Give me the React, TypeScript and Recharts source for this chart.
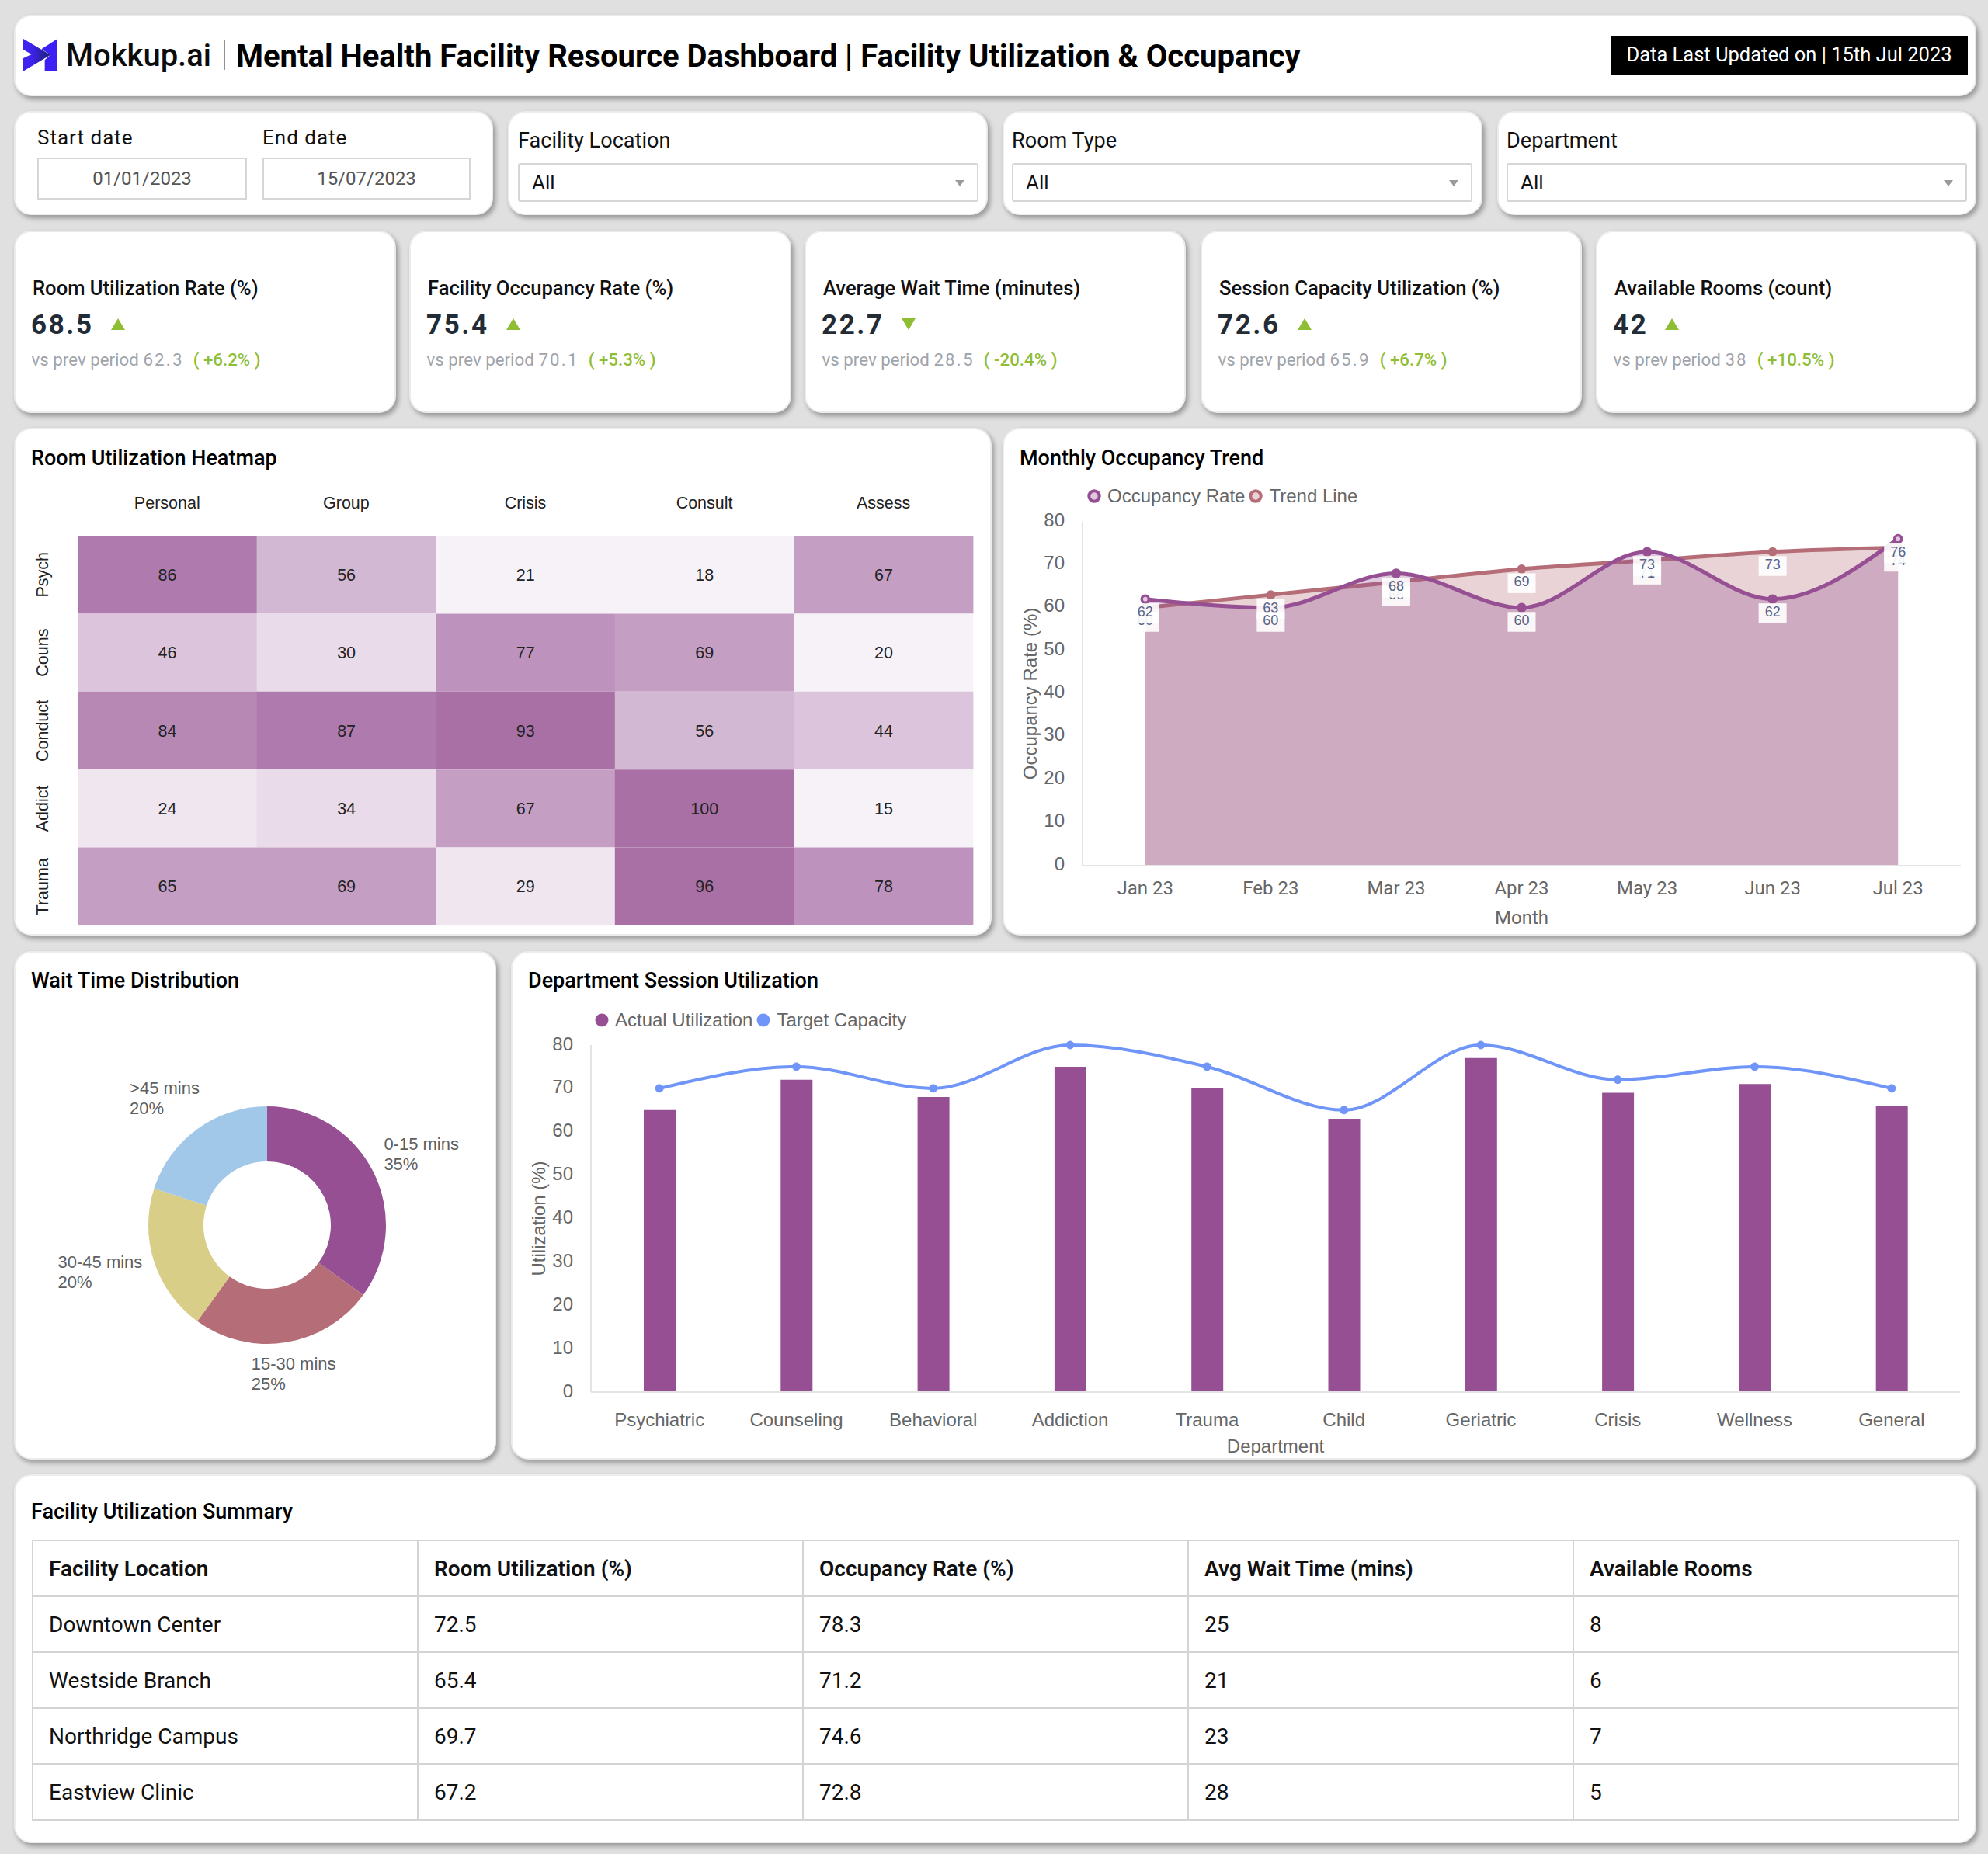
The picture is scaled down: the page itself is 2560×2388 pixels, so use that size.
import {
  Area,
  Bar,
  BarChart,
  Cell,
  ComposedChart,
  LabelList,
  Legend,
  Line,
  Pie,
  PieChart,
  XAxis,
  YAxis,
} from "recharts";

const months = ["Jan 23", "Feb 23", "Mar 23", "Apr 23", "May 23", "Jun 23", "Jul 23"];
const occupancy = [62, 60, 68, 60, 73, 62, 76];
const trend = [60, 63, 66, 69, 71, 73, 74];

const departments = ["Psychiatric", "Counseling", "Behavioral", "Addiction", "Trauma", "Child", "Geriatric", "Crisis", "Wellness", "General"];
const actualUtil = [65, 72, 68, 75, 70, 63, 77, 69, 71, 66];
const targetCap = [70, 75, 70, 80, 75, 65, 80, 72, 75, 70];

const waitLabels = ["0-15 mins", "15-30 mins", "30-45 mins", ">45 mins"];
const waitValues = [35, 25, 20, 20];
const waitColors = ["#954F92", "#B56D78", "#D9CE88", "#A1C8E9"];

const heatCols = ["Personal", "Group", "Crisis", "Consult", "Assess"];
const heatRows = ["Psych", "Couns", "Conduct", "Addict", "Trauma"];
const psychRow = [86, 56, 21, 18, 67];
const counsRow = [46, 30, 77, 69, 20];
const conductRow = [84, 87, 93, 56, 44];
const addictRow = [24, 34, 67, 100, 15];
const traumaRow = [65, 69, 29, 96, 78];
const heatValues = [psychRow, counsRow, conductRow, addictRow, traumaRow];
const heatSteps = [21, 29, 34, 46, 56, 69, 78, 84, 87, 100];
const heatShades = ["#F6F2F7", "#F0E6F0", "#E9DBE9", "#DCC4DC", "#D2B8D3", "#C49EC3", "#BD93BD", "#B888B5", "#AF7BAE", "#A970A5"];

const kpiTitles = ["Room Utilization Rate (%)", "Facility Occupancy Rate (%)", "Average Wait Time (minutes)", "Session Capacity Utilization (%)", "Available Rooms (count)"];
const kpiValues = ["68.5", "75.4", "22.7", "72.6", "42"];
const kpiPrev = ["62.3", "70.1", "28.5", "65.9", "38"];
const kpiDelta = ["+6.2%", "+5.3%", "-20.4%", "+6.7%", "+10.5%"];

const tableHead = ["Facility Location", "Room Utilization (%)", "Occupancy Rate (%)", "Avg Wait Time (mins)", "Available Rooms"];
const tableRows = [
  ["Downtown Center", "72.5", "78.3", "25", "8"],
  ["Westside Branch", "65.4", "71.2", "21", "6"],
  ["Northridge Campus", "69.7", "74.6", "23", "7"],
  ["Eastview Clinic", "67.2", "72.8", "28", "5"],
];

const monthData = months.map((month, i) => ({ month, occupancy: occupancy[i], trend: trend[i] }));
const deptData = departments.map((name, i) => ({ name, actual: actualUtil[i], target: targetCap[i] }));
const waitData = waitLabels.map((name, i) => ({ name, value: waitValues[i] }));
const heatData = heatCols.map((col, c) => {
  const row: any = { col };
  heatRows.forEach((r, i) => {
    row[r] = 1;
    row[r + "_v"] = heatValues[i][c];
  });
  return row;
});

const ROBOTO = "Roboto, sans-serif";
const LIB = "'Liberation Sans', Arial, sans-serif";
const GREEN = "#8FBE35";
const GREY = "#666666";

const heatColor = (v: number) => heatShades[heatSteps.findIndex((s) => v <= s)];

function Card({ x, y, w, h }: { x: number; y: number; w: number; h: number }) {
  return (
    <div
      style={{
        position: "absolute",
        left: x - 1,
        top: y,
        width: w + 1,
        height: h,
        boxSizing: "border-box",
        background: "#fff",
        borderRadius: 22,
        border: "2px solid #ececec",
        boxShadow: "3px 4px 6px rgba(0,0,0,0.33)",
      }}
    />
  );
}

function T({ x, cy, size, weight = 400, color = "#000", ls = 0, children }: any) {
  return (
    <div
      style={{
        position: "absolute",
        left: x,
        top: cy,
        transform: "translateY(-50%)",
        fontFamily: ROBOTO,
        fontSize: size,
        fontWeight: weight,
        color,
        letterSpacing: ls,
        whiteSpace: "nowrap",
        lineHeight: 1.2,
      }}
    >
      {children}
    </div>
  );
}

function Dropdown({ x, label }: { x: number; label: string }) {
  return (
    <>
      <T x={x} cy={181} size={27.1} color="#111">
        {label}
      </T>
      <div
        style={{
          position: "absolute",
          left: x,
          top: 210,
          width: 593,
          height: 50,
          boxSizing: "border-box",
          border: "2px solid #d6d6d6",
          borderRadius: 3,
        }}
      />
      <T x={x + 18} cy={236} size={26} color="#111">
        All
      </T>
      <div
        style={{
          position: "absolute",
          left: x + 563,
          top: 232,
          width: 0,
          height: 0,
          borderLeft: "6px solid transparent",
          borderRight: "6px solid transparent",
          borderTop: "8px solid #9a9a9a",
        }}
      />
    </>
  );
}

function DateBox({ x, w, label, value }: { x: number; w: number; label: string; value: string }) {
  return (
    <>
      <T x={x} cy={178} size={26} color="#111" ls={1}>
        {label}
      </T>
      <div
        style={{
          position: "absolute",
          left: x,
          top: 203,
          width: w,
          height: 54,
          boxSizing: "border-box",
          border: "2px solid #d6d6d6",
          display: "flex",
          alignItems: "center",
          justifyContent: "center",
          fontFamily: ROBOTO,
          fontSize: 24,
          color: "#555",
        }}
      >
        {value}
      </div>
    </>
  );
}

function Kpi({ x, i }: { x: number; i: number }) {
  const down = kpiDelta[i].startsWith("-");
  const width = kpiValues[i].length > 2 ? 102 : 66;
  return (
    <>
      <T x={x + 23} cy={371} size={25.6} weight={500} color="#111">
        {kpiTitles[i]}
      </T>
      <T x={x + 21} cy={419} size={35} weight={700} color="#222B36" ls={2.6}>
        {kpiValues[i]}
      </T>
      <div
        style={{
          position: "absolute",
          left: x + 22 + width,
          top: 410,
          width: 0,
          height: 0,
          borderLeft: "9px solid transparent",
          borderRight: "9px solid transparent",
          ...(down ? { borderTop: `15px solid ${GREEN}` } : { borderBottom: `15px solid ${GREEN}` }),
        }}
      />
      <T x={x + 21.5} cy={462.5} size={22.3} color="#A0A4AB">
        vs prev period <span style={{ letterSpacing: 2.2 }}>{kpiPrev[i]}</span>
        <span style={{ color: GREEN, marginLeft: 12, fontWeight: 500 }}>( {kpiDelta[i]} )</span>
      </T>
    </>
  );
}

function OccLabel(props: any) {
  const vb = props.viewBox || props;
  return (
    <g>
      <rect x={vb.x - 18} y={vb.y + 5.5} width={36} height={25.5} fill="#fff" fillOpacity={0.9} />
      <text x={vb.x} y={vb.y + 16.5} textAnchor="middle" dominantBaseline="central" fontSize={18} fontFamily={LIB} fill="#566488">
        {props.value}
      </text>
    </g>
  );
}

function OccDot(props: any) {
  const { cx, cy, index } = props;
  const ends = index === 0 || index === months.length - 1;
  return <circle key={index} cx={cx} cy={cy} r={4.6} fill={ends ? "#E0C8DE" : "#954F92"} stroke="#954F92" strokeWidth={3.4} />;
}

function makeLegend(items: { color: string; label: string; hollow?: boolean; pale?: string }[]) {
  return () => (
    <div style={{ display: "flex", alignItems: "center", fontFamily: LIB, fontSize: 24, color: GREY, whiteSpace: "nowrap" }}>
      {items.map((it) => (
        <span key={it.label} style={{ display: "inline-flex", alignItems: "center", marginRight: 5 }}>
          <svg width={18} height={18} style={{ marginRight: 8 }}>
            <circle cx={9} cy={9} r={it.hollow ? 6.7 : 8.5} fill={it.hollow ? it.pale : it.color} stroke={it.hollow ? it.color : "none"} strokeWidth={it.hollow ? 4 : 0} />
          </svg>
          {it.label}
        </span>
      ))}
    </div>
  );
}

const occupancyLegend = makeLegend([
  { color: "#954F92", label: "Occupancy Rate", hollow: true, pale: "#E0C8DE" },
  { color: "#B56D78", label: "Trend Line", hollow: true, pale: "#EAD3D7" },
]);
const deptLegend = makeLegend([
  { color: "#954F92", label: "Actual Utilization" },
  { color: "#6F95F8", label: "Target Capacity" },
]);

function OccupancyChart() {
  return (
    <div style={{ position: "absolute", left: 1292, top: 552 }}>
      <ComposedChart width={1253} height={650} data={monthData} margin={{ top: 120, right: 20, bottom: 17, left: 22 }}>
        <XAxis
          dataKey="month"
          scale="band"
          height={70}
          tickLine={false}
          tickMargin={14}
          axisLine={{ stroke: "#E3E3E3", strokeWidth: 2 }}
          tick={{ fill: GREY, fontSize: 24, fontFamily: ROBOTO }}
          label={{ value: "Month", position: "insideBottom", offset: -5, fill: GREY, fontSize: 24, fontFamily: ROBOTO }}
        />
        <YAxis
          width={80}
          domain={[0, 80]}
          ticks={[0, 10, 20, 30, 40, 50, 60, 70, 80]}
          tickLine={false}
          tickMargin={17}
          axisLine={{ stroke: "#E3E3E3", strokeWidth: 2 }}
          tick={{ fill: GREY, fontSize: 24, fontFamily: LIB, dy: -3 }}
          label={{ value: "Occupancy Rate (%)", angle: -90, position: "insideLeft", offset: 12, fill: GREY, fontSize: 24, fontFamily: LIB, style: { textAnchor: "middle" } }}
        />
        <Legend verticalAlign="middle" align="center" content={occupancyLegend} wrapperStyle={{ left: 108, top: 72.5, width: 500 }} />
        <Area
          type="monotone"
          dataKey="trend"
          name="Trend Line"
          stroke="#B56D78"
          strokeWidth={5}
          fill="#B56D78"
          fillOpacity={0.3}
          dot={{ r: 4.5, fill: "#B56D78", stroke: "#B56D78", strokeWidth: 3, fillOpacity: 1 }}
          isAnimationActive={false}
        />
        <Area
          type="monotone"
          dataKey="occupancy"
          name="Occupancy Rate"
          stroke="#954F92"
          strokeWidth={5}
          fill="#954F92"
          fillOpacity={0.3}
          dot={OccDot}
          isAnimationActive={false}
        />
        <Line dataKey="trend" stroke="none" dot={false} legendType="none" isAnimationActive={false}>
          <LabelList dataKey="trend" content={OccLabel} />
        </Line>
        <Line dataKey="occupancy" stroke="none" dot={false} legendType="none" isAnimationActive={false}>
          <LabelList dataKey="occupancy" content={OccLabel} />
        </Line>
      </ComposedChart>
    </div>
  );
}

function DepartmentChart() {
  return (
    <div style={{ position: "absolute", left: 660, top: 1225 }}>
      <ComposedChart width={1885} height={654} data={deptData} margin={{ top: 121, right: 21, bottom: 16, left: 21 }}>
        <XAxis
          dataKey="name"
          height={70}
          interval={0}
          tickLine={false}
          tickMargin={21}
          axisLine={{ stroke: "#E3E3E3", strokeWidth: 2 }}
          tick={{ fill: GREY, fontSize: 24, fontFamily: LIB }}
          label={{ value: "Department", position: "insideBottom", offset: -8, fill: GREY, fontSize: 24, fontFamily: LIB }}
        />
        <YAxis
          width={80}
          domain={[0, 80]}
          ticks={[0, 10, 20, 30, 40, 50, 60, 70, 80]}
          tickLine={false}
          tickMargin={17}
          axisLine={{ stroke: "#E3E3E3", strokeWidth: 2 }}
          tick={{ fill: GREY, fontSize: 24, fontFamily: LIB, dy: -2 }}
          label={{ value: "Utilization (%)", angle: -90, position: "insideLeft", offset: 12, fill: GREY, fontSize: 24, fontFamily: LIB, style: { textAnchor: "middle" } }}
        />
        <Legend verticalAlign="middle" align="center" content={deptLegend} wrapperStyle={{ left: 106, top: 74.5, width: 600 }} />
        <Bar dataKey="actual" name="Actual Utilization" fill="#954F92" barSize={41} isAnimationActive={false} />
        <Line
          type="monotone"
          dataKey="target"
          name="Target Capacity"
          stroke="#6F95F8"
          strokeWidth={4}
          dot={{ r: 5, fill: "#6F95F8", stroke: "#6F95F8", strokeWidth: 1 }}
          isAnimationActive={false}
        />
      </ComposedChart>
    </div>
  );
}

function waitLabel(p: any) {
  const rad = (p.midAngle * Math.PI) / 180;
  const w = p.name.length * 10.8;
  const lx = p.cx + 225 * Math.cos(rad) - w / 2 - 1.5;
  const ly = p.cy - (Math.sin(rad) > 0 ? 203 : 193) * Math.sin(rad);
  return (
    <text fontFamily={LIB} fontSize={22} fill="#5F5F5F">
      <tspan x={lx} y={ly - 5}>
        {p.name}
      </tspan>
      <tspan x={lx} y={ly + 21}>
        {p.value}%
      </tspan>
    </text>
  );
}

function WaitChart() {
  return (
    <div style={{ position: "absolute", left: 19, top: 1225 }}>
      <PieChart width={620} height={654} margin={{ top: 0, right: 0, bottom: 0, left: 0 }}>
        <Pie
          data={waitData}
          dataKey="value"
          nameKey="name"
          cx={325}
          cy={353}
          outerRadius={153}
          innerRadius={82}
          startAngle={90}
          endAngle={-270}
          stroke="none"
          label={waitLabel}
          labelLine={false}
          isAnimationActive={false}
        >
          {waitData.map((d, i) => (
            <Cell key={d.name} fill={waitColors[i]} />
          ))}
        </Pie>
      </PieChart>
    </div>
  );
}

function HeatmapChart() {
  return (
    <div style={{ position: "absolute", left: 19, top: 551 }}>
      <BarChart width={1258} height={651} data={heatData} barCategoryGap={0} barGap={0} margin={{ top: 79, right: 24, bottom: 10, left: 21 }}>
        <XAxis
          dataKey="col"
          orientation="top"
          height={60}
          axisLine={false}
          tickLine={false}
          tickMargin={29}
          interval={0}
          tick={{ fill: "#222", fontSize: 21.5, fontFamily: LIB }}
        />
        <YAxis
          type="number"
          width={60}
          domain={[0, 5]}
          reversed
          ticks={[0.5, 1.5, 2.5, 3.5, 4.5]}
          tickFormatter={(v: number) => heatRows[Math.floor(v)]}
          axisLine={false}
          tickLine={false}
          tickMargin={40}
          interval={0}
          tick={{ fill: "#222", fontSize: 21.5, fontFamily: LIB, angle: -90, textAnchor: "middle" }}
        />
        {heatRows.map((r, i) => (
          <Bar key={r} dataKey={r} stackId="heat" isAnimationActive={false}>
            {heatCols.map((c, j) => (
              <Cell key={c} fill={heatColor(heatValues[i][j])} />
            ))}
            <LabelList dataKey={r + "_v"} position="center" fill="#222" fontSize={21.5} fontFamily={LIB} />
          </Bar>
        ))}
      </BarChart>
    </div>
  );
}

function Logo() {
  return (
    <svg viewBox="0 0 900 210" width={300} height={70} style={{ position: "absolute", left: 20, top: 40 }}>
      <defs>
        <linearGradient id="logoGrad" x1="0" x2="1" y1="0" y2="0">
          <stop offset="0.3" stopColor="#3F22EE" />
          <stop offset="1" stopColor="#18206F" />
        </linearGradient>
      </defs>
      <polygon points="162,30 162,155 113,155 113,112 135,92 100,70" fill="#3D1FF5" />
      <polygon points="30,30 135,92 30,155 30,105 62,90 30,72" fill="url(#logoGrad)" />
    </svg>
  );
}

export default function App() {
  return (
    <div style={{ position: "absolute", left: 0, top: 0, width: 2560, height: 2388, background: "#E0E0E0", overflow: "hidden" }}>
      <Card x={19} y={19} w={2526} h={105} />
      <Card x={19} y={143} w={616} h={134} />
      <Card x={655} y={143} w={617} h={134} />
      <Card x={1292} y={143} w={617} h={134} />
      <Card x={1929} y={143} w={616} h={134} />
      <Card x={19} y={297} w={491} h={235} />
      <Card x={528} y={297} w={491} h={235} />
      <Card x={1037} y={297} w={490} h={235} />
      <Card x={1547} y={297} w={490} h={235} />
      <Card x={2056} y={297} w={489} h={235} />
      <Card x={19} y={551} w={1258} h={654} />
      <Card x={1292} y={551} w={1253} h={654} />
      <Card x={19} y={1225} w={620} h={655} />
      <Card x={659} y={1225} w={1886} h={655} />
      <Card x={19} y={1899} w={2526} h={475} />

      <Logo />
      <T x={85} cy={72} size={40} weight={500} color="#0c0c0c">
        Mokkup.ai
      </T>
      <div style={{ position: "absolute", left: 288, top: 51, width: 1.5, height: 39, background: "#9a8f8f" }} />
      <T x={304} cy={73} size={40} weight={700} color="#000">
        Mental Health Facility Resource Dashboard | Facility Utilization &amp; Occupancy
      </T>
      <div style={{ position: "absolute", left: 2074, top: 46, width: 460, height: 50, boxSizing: "border-box", paddingBottom: 3, background: "#000", color: "#fff", display: "flex", alignItems: "center", justifyContent: "center", fontFamily: ROBOTO, fontSize: 25.5 }}>
        Data Last Updated on | 15th Jul 2023
      </div>

      <DateBox x={48} w={270} label="Start date" value="01/01/2023" />
      <DateBox x={338} w={268} label="End date" value="15/07/2023" />
      <Dropdown x={667} label="Facility Location" />
      <Dropdown x={1303} label="Room Type" />
      <Dropdown x={1940} label="Department" />

      <Kpi x={19} i={0} />
      <Kpi x={528} i={1} />
      <Kpi x={1037} i={2} />
      <Kpi x={1547} i={3} />
      <Kpi x={2056} i={4} />

      <T x={40} cy={590} size={27} weight={500}>
        Room Utilization Heatmap
      </T>
      <T x={1313} cy={590} size={27} weight={500}>
        Monthly Occupancy Trend
      </T>
      <T x={40} cy={1263} size={27} weight={500}>
        Wait Time Distribution
      </T>
      <T x={680} cy={1263} size={27} weight={500}>
        Department Session Utilization
      </T>
      <T x={40} cy={1946.5} size={27} weight={500}>
        Facility Utilization Summary
      </T>

      <HeatmapChart />
      <OccupancyChart />
      <WaitChart />
      <DepartmentChart />

      <table
        style={{
          position: "absolute",
          left: 41,
          top: 1983,
          width: 2482,
          borderCollapse: "collapse",
          tableLayout: "fixed",
          fontFamily: ROBOTO,
          fontSize: 28,
          color: "#111",
        }}
      >
        <thead>
          <tr>
            {tableHead.map((h) => (
              <th key={h} style={{ height: 70, padding: "0 0 0 20px", border: "2px solid #D4D4D4", textAlign: "left", fontWeight: 600 }}>
                {h}
              </th>
            ))}
          </tr>
        </thead>
        <tbody>
          {tableRows.map((row) => (
            <tr key={row[0]}>
              {row.map((c, i) => (
                <td key={i} style={{ height: 70, padding: "0 0 0 20px", border: "2px solid #D4D4D4" }}>
                  {c}
                </td>
              ))}
            </tr>
          ))}
        </tbody>
      </table>
    </div>
  );
}
